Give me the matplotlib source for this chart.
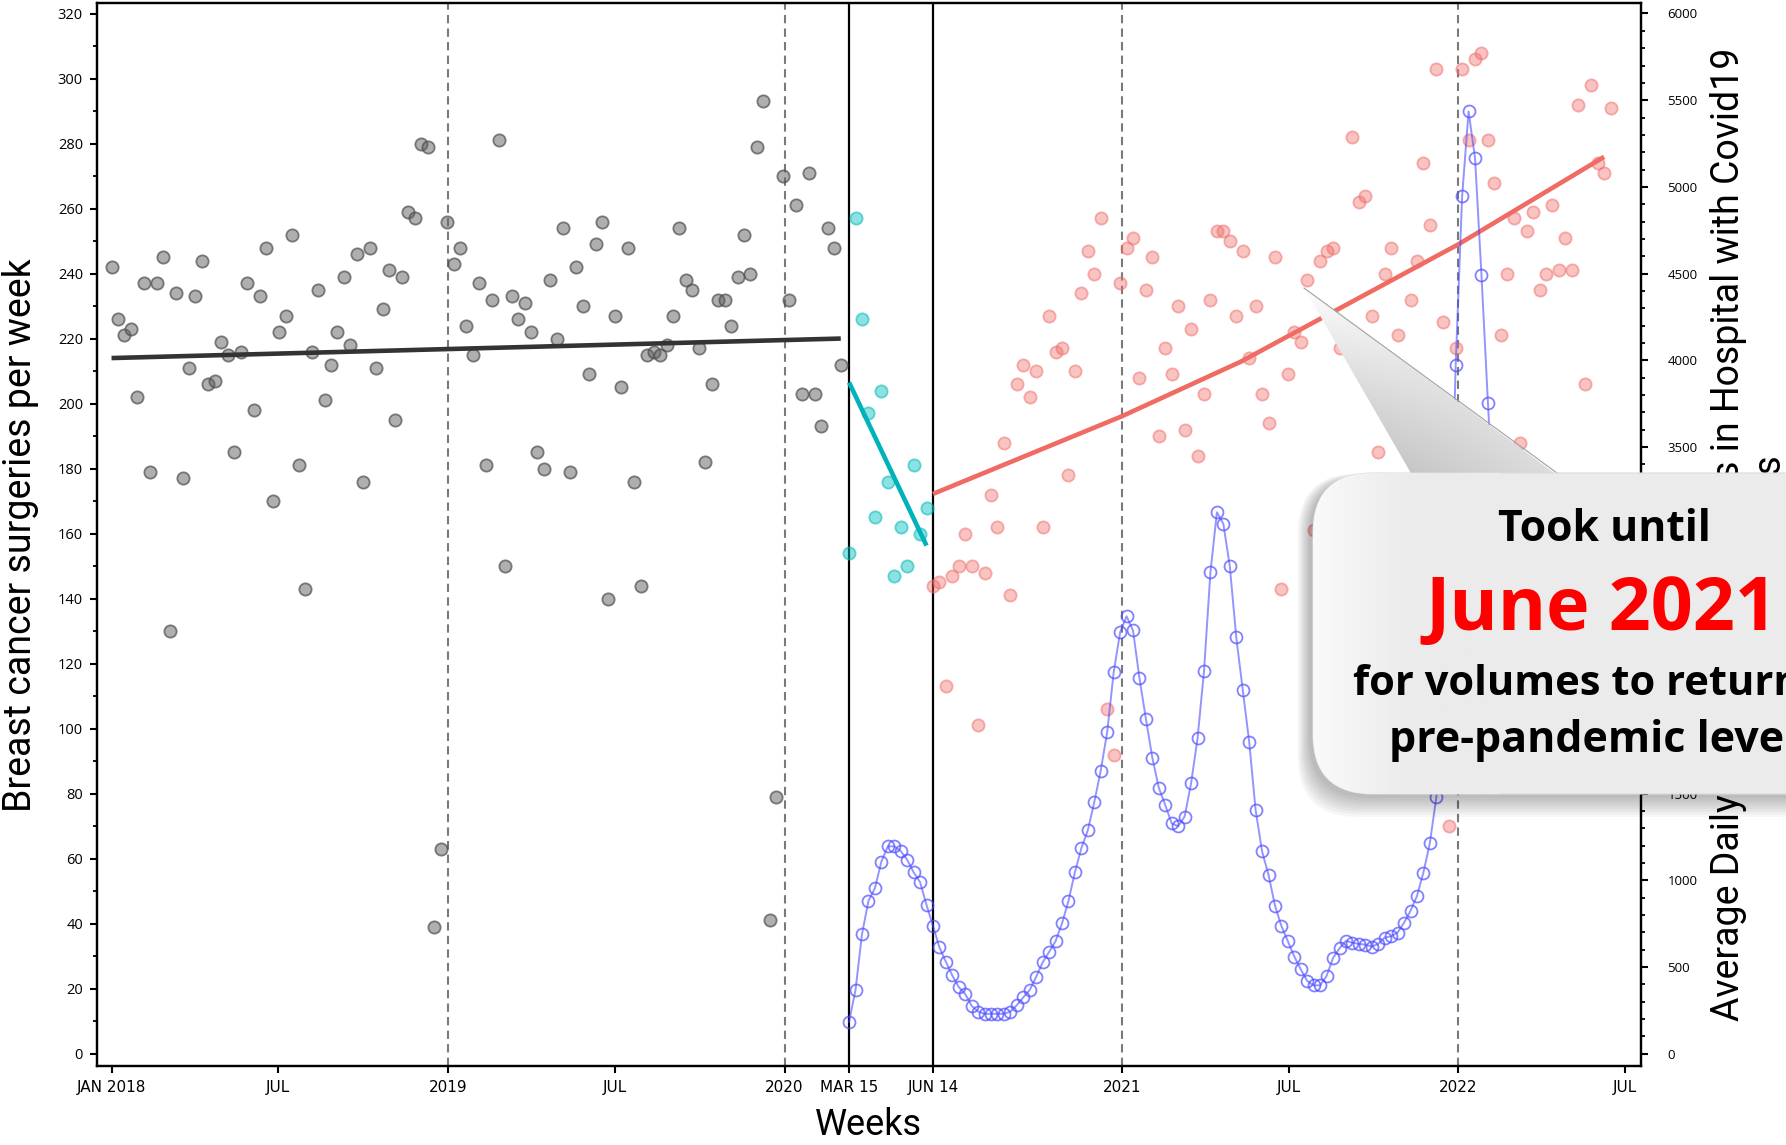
import numpy as np
import pandas as pd
import matplotlib
matplotlib.use("Agg")
import matplotlib.pyplot as plt
from matplotlib.patches import FancyBboxPatch, Polygon
from matplotlib.ticker import MultipleLocator, NullLocator
from matplotlib.colors import LinearSegmentedColormap

# weekly breast cancer surgeries, pre pandemic (from 2018-01-01)
gray_start = "2018-01-01"
gray_counts = [242, 226, 221, 223, 202, 237, 179, 237, 245, 130, 234, 177, 211, 233, 244, 206,
               207, 219, 215, 185, 216, 237, 198, 233, 248, 170, 222, 227, 252, 181, 143, 216,
               235, 201, 212, 222, 239, 218, 246, 176, 248, 211, 229, 241, 195, 239, 259, 257,
               280, 279, 39, 63, 256, 243, 248, 224, 215, 237, 181, 232, 281, 150, 233, 226,
               231, 222, 185, 180, 238, 220, 254, 179, 242, 230, 209, 249, 256, 140, 227, 205,
               248, 176, 144, 215, 216, 215, 218, 227, 254, 238, 235, 217, 182, 206, 232, 232,
               224, 239, 252, 240, 279, 293, 41, 79, 270, 232, 261, 203, 271, 203, 193, 254,
               248, 212]

# first lockdown weeks
teal_start = "2020-03-11"
teal_counts = [154, 257, 226, 197, 165, 204, 176, 147, 162, 150, 181, 160, 168]

# recovery weeks
red_start = "2020-06-10"
red_counts = [144, 145, 113, 147, 150, 160, 150, 101, 148, 172, 162, 188, 141, 206, 212, 202,
              210, 162, 227, 216, 217, 178, 210, 234, 247, 240, 257, 106, 92, 237, 248, 251,
              208, 235, 245, 190, 217, 209, 230, 192, 223, 184, 203, 232, 253, 253, 250, 227,
              247, 214, 230, 203, 194, 245, 143, 209, 222, 219, 238, 161, 244, 247, 248, 217,
              220, 282, 262, 264, 227, 185, 240, 248, 221, 195, 232, 244, 274, 255, 303, 225,
              70, 217, 303, 281, 306, 308, 281, 268, 221, 240, 257, 188, 253, 259, 235, 240,
              261, 241, 251, 241, 292, 206, 298, 274, 271, 291]

# average daily covid patients in hospital
covid_start = "2020-03-11"
covid_patients = [184, 368, 689, 881, 954, 1107, 1196, 1196, 1169, 1119, 1047, 990, 858, 738,
                  613, 530, 451, 384, 344, 276, 243, 230, 230, 230, 230, 243, 280, 325, 368,
                  444, 527, 587, 649, 752, 881, 1047, 1186, 1289, 1451, 1633, 1855, 2199, 2430,
                  2523, 2441, 2166, 1931, 1706, 1533, 1434, 1328, 1312, 1368, 1560, 1819, 2206,
                  2779, 3123, 3056, 2812, 2401, 2100, 1800, 1405, 1167, 1031, 854, 736, 648,
                  560, 486, 419, 394, 394, 449, 552, 608, 651, 640, 633, 629, 618, 633, 670,
                  677, 699, 755, 824, 909, 1045, 1215, 1479, 1900, 2600, 3971, 4946, 5435,
                  5166, 4489, 3753, 3050, 2500]

# trend lines
gray_trend_dates = ["2018-01-01", "2020-03-02"]
gray_trend_vals = [214, 220]
teal_trend_dates = ["2020-03-11", "2020-06-03"]
teal_trend_vals = [206.5, 156.3]
red_trend_dates = ["2020-06-10", "2021-01-01", "2021-05-10", "2022-01-01", "2022-06-08"]
red_trend_vals = [172.2, 196.1, 212.9, 249.0, 275.9]

tick_dates = ["2018-01-01", "2018-07-01", "2019-01-01", "2019-07-01", "2020-01-01",
              "2020-03-11", "2020-06-10", "2021-01-01", "2021-07-01", "2022-01-01", "2022-07-01"]
tick_labels = ["JAN 2018", "JUL", "2019", "JUL", "2020", "MAR 15", "JUN 14",
               "2021", "JUL", "2022", "JUL"]
year_lines = ["2019-01-01", "2020-01-01", "2021-01-01", "2022-01-01"]
phase_lines = ["2020-03-11", "2020-06-10"]

gray_dates = pd.date_range(gray_start, periods=len(gray_counts), freq="7D")
teal_dates = pd.date_range(teal_start, periods=len(teal_counts), freq="7D")
red_dates = pd.date_range(red_start, periods=len(red_counts), freq="7D")
covid_dates = pd.date_range(covid_start, periods=len(covid_patients), freq="7D")

W, H = 1786, 1145
fig = plt.figure(figsize=(W / 100, H / 100), dpi=100)
ax = fig.add_axes([0.0542, 0.069, 0.8646, 0.928])
ax2 = ax.twinx()

for d in year_lines:
    ax.axvline(pd.Timestamp(d), color="#7a7a7a", lw=1.5, ls=(0, (4, 2.5)), zorder=1)
for d in phase_lines:
    ax.axvline(pd.Timestamp(d), color="black", lw=1.6, zorder=1)

ax.scatter(gray_dates, gray_counts, s=78, facecolor=(0.38, 0.38, 0.38, 0.5),
           edgecolor=(0.3, 0.3, 0.3, 0.7), linewidth=1.3, zorder=2)
ax.scatter(teal_dates, teal_counts, s=78, facecolor=(0.0, 0.75, 0.75, 0.45),
           edgecolor=(0.0, 0.72, 0.72, 0.55), linewidth=1.3, zorder=2)
ax.scatter(red_dates, red_counts, s=78, facecolor=(0.94, 0.42, 0.40, 0.4),
           edgecolor=(0.93, 0.42, 0.40, 0.5), linewidth=1.3, zorder=2)

ax.plot(pd.to_datetime(gray_trend_dates), gray_trend_vals, color="#333333", lw=3.3,
        solid_capstyle="butt", zorder=3)
ax.plot(pd.to_datetime(teal_trend_dates), teal_trend_vals, color="#00b2ba", lw=3.3,
        solid_capstyle="butt", zorder=3)
ax.plot(pd.to_datetime(red_trend_dates), red_trend_vals, color="#ef6b63", lw=3.3,
        solid_capstyle="butt", zorder=3)

ax2.plot(covid_dates, covid_patients, color=(0.3, 0.3, 1.0, 0.6), lw=1.4, marker="o",
         ms=8.6, mfc="none", mec=(0.3, 0.3, 1.0, 0.7), mew=1.3)

ax.set_xlim(pd.Timestamp("2017-12-16"), pd.Timestamp("2022-07-18"))
ax.set_ylim(-3.8, 323.1)
ax2.set_ylim(-71, 6058)

ax.set_xticks(pd.to_datetime(tick_dates))
ax.set_xticklabels(tick_labels, family="Liberation Sans Narrow", fontsize=11)
ax.xaxis.set_minor_locator(NullLocator())
ax.set_yticks(range(0, 321, 20))
ax.yaxis.set_minor_locator(MultipleLocator(10))
ax2.set_yticks(range(0, 6001, 500))
ax2.yaxis.set_minor_locator(MultipleLocator(100))

for a in (ax, ax2):
    for sp in a.spines.values():
        sp.set_linewidth(1.6)
ax.tick_params(axis="x", length=5, width=1.5, pad=5)
ax.tick_params(axis="y", which="major", length=5, width=1.5, pad=5, labelsize=10.5)
ax.tick_params(axis="y", which="minor", length=3, width=1.3)
ax2.tick_params(axis="y", which="major", length=5, width=1.5, pad=14, labelsize=9.5)
ax2.tick_params(axis="y", which="minor", length=3, width=1.3)
for lab in ax.get_yticklabels() + ax2.get_yticklabels():
    lab.set_family("Open Sans")

ax.set_ylabel("Breast cancer surgeries per week", family="Roboto", fontsize=27,
              va="center")
ax.yaxis.set_label_coords(-0.0494, 0.5)
ax.set_xlabel("Weeks", family="Roboto", fontsize=26, va="center")
ax.xaxis.set_label_coords(0.5, -0.0555)
ax2.set_ylabel("Average Daily Number of Patients in Hospital with Covid19", family="Roboto",
               fontsize=27, va="center", rotation=90)
ax2.yaxis.set_label_coords(1.0563, 0.5)
ax2.text(1.0841, 0.575, "7-day averages", transform=ax2.transAxes, rotation=90,
         ha="center", va="top", family="Roboto", fontsize=27)

# callout drawn in pixel coordinates on top of everything
ov = fig.add_axes([0, 0, 1, 1], zorder=10)
ov.set_xlim(0, W)
ov.set_ylim(H, 0)
ov.axis("off")

wedge = Polygon([(1304, 288), (1412, 475), (1557, 475)], closed=True,
                facecolor="none", edgecolor="none")
ov.add_patch(wedge)
gy, gx = np.mgrid[0:1:200j, 0:1:200j]
shade = gy * 0.45 + (1 - gx) * gy * 0.55
wcm = LinearSegmentedColormap.from_list("wedge", ["#fdfdfd", "#b5b5b5"])
im = ov.imshow(shade, extent=[1304, 1557, 475, 288], cmap=wcm, vmin=0, vmax=1,
               aspect="auto", interpolation="bilinear", zorder=11)
im.set_clip_path(wedge)
ov.plot([1304, 1557], [288, 473], color="#a0a0a0", lw=0.8, zorder=12)

for i in range(8):
    g = i * 1.6
    ov.add_patch(FancyBboxPatch((1313 - 4 - g, 473 + 4 - g * 0.3), 700 + 2 * g, 321 + 2 * g,
                                boxstyle="round,pad=0,rounding_size=60",
                                facecolor="black", edgecolor="none", alpha=0.035,
                                zorder=12))
box = FancyBboxPatch((1313, 473), 700, 321, boxstyle="round,pad=0,rounding_size=60",
                     facecolor="#ebebeb", edgecolor="#dcdcdc", lw=0.8, zorder=13)
ov.add_patch(box)
bx = np.linspace(0, 1, 200).reshape(1, -1)
bcm = LinearSegmentedColormap.from_list("box", ["#fafafa", "#ebebeb", "#ebebeb"])
im2 = ov.imshow(bx, extent=[1313, 1500, 794, 473], cmap=bcm, aspect="auto",
                interpolation="bilinear", zorder=13.5)
im2.set_clip_path(box)

txt = dict(family="Open Sans", weight="bold", ha="center", va="baseline", zorder=14)
ov.text(1604, 540.7, "Took until", fontsize=30.7, color="black", **txt)
ov.text(1601, 630, "June 2021", fontsize=53, color="#ff0000", **txt)
ov.text(1604, 695, "for volumes to return to", fontsize=30, color="black", **txt)
ov.text(1604, 751.7, "pre-pandemic levels", fontsize=31, color="black", **txt)

fig.savefig("out.png", dpi=100)
